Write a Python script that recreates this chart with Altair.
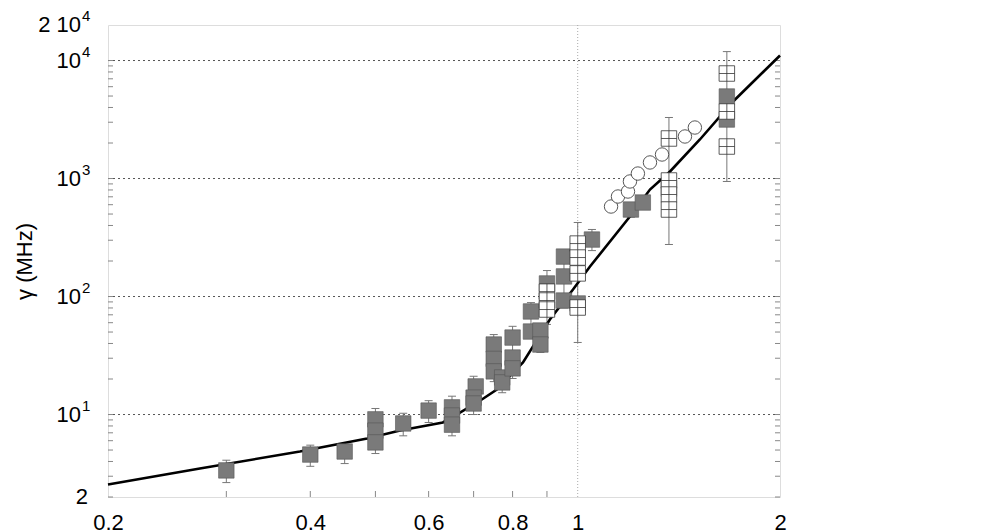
import altair as alt
import pandas as pd

# ---------------- data ----------------
filled_x = [0.30, 0.40, 0.45, 0.50, 0.50, 0.50, 0.55, 0.60, 0.65, 0.65, 0.65,
            0.705, 0.70, 0.70, 0.75, 0.75, 0.75, 0.772, 0.772, 0.80, 0.80, 0.80,
            0.852, 0.852, 0.88, 0.88, 0.90, 0.954, 0.954, 0.954, 1.00, 1.05,
            1.20, 1.25, 1.367, 1.667, 1.667]
filled_y = [3.36, 4.58, 4.86, 9.1, 7.3, 5.8, 8.4, 10.8, 11.5, 9.8, 8.2,
            17.3, 13.9, 12.4, 39.2, 29.6, 23.2, 20.6, 18.7, 44.9, 30.4, 24.6,
            74.7, 50.5, 51.5, 39.2, 129, 218, 148, 92.5, 87.3, 304,
            546, 626, 822, 4956, 3163]

open_x = [0.90, 0.90, 0.90, 1.00, 1.00, 1.00, 1.00,
          1.367, 1.367, 1.367, 1.367, 1.667, 1.667, 1.667]
open_y = [110, 92.5, 77.6, 281, 214, 157, 80.7,
          2184, 962, 732, 546, 7762, 3698, 1867]

circ_x = [1.121, 1.148, 1.188, 1.196, 1.229, 1.281, 1.335, 1.444, 1.494]
circ_y = [579, 704, 776, 944, 1102, 1368, 1598, 2271, 2705]

err_x = [0.30, 0.40, 0.45, 0.50, 0.55, 0.60, 0.65, 0.70, 0.75, 0.772, 0.80,
         0.852, 0.88, 0.90, 0.954, 1.00, 1.05, 1.20, 1.25, 1.367, 1.667]
err_lo = [2.65, 3.64, 3.84, 4.67, 6.6, 8.56, 6.6, 10.0, 19.0, 15.3, 20.2,
          45, 33.6, 58, 80, 40.8, 245, 470, 560, 276, 944]
err_hi = [4.1, 5.5, 5.6, 11.25, 10.25, 13.1, 14.3, 21.1, 47.6, 22, 55.9,
          88.8, 58, 166, 235, 424, 370, 600, 690, 3290, 11900]

curve_x = [0.2, 0.274, 0.386, 0.486, 0.544, 0.63, 0.668, 0.72, 0.758, 0.829,
           0.909, 0.984, 1.043, 1.196, 1.281, 1.372, 1.52, 1.703, 2.0]
curve_y = [2.55, 3.49, 4.86, 6.26, 7.32, 8.56, 10.4, 13.4, 16.3, 27.6,
           63.9, 114.6, 179.6, 476, 807, 1147, 2142, 4494, 11030]

y_minor = [2, 3, 4, 5, 6, 7, 8, 9, 10, 20, 30, 40, 50, 60, 70, 80, 90, 100,
           200, 300, 400, 500, 600, 700, 800, 900, 1000,
           2000, 3000, 4000, 5000, 6000, 7000, 8000, 9000, 10000]
x_minor = [0.3, 0.4, 0.5, 0.6, 0.7, 0.8, 0.9]
h_grid = [10, 100, 1000, 10000]
v_grid = [1]

# y tick labels: plain ones and "base^exponent" ones
y_plain_values = [2]
y_plain_texts = ["2"]
y_exp_values = [10, 100, 1000, 10000, 20000]
y_exp_bases = ["10", "10", "10", "10", "2 10"]
y_exp_powers = ["1", "2", "3", "4", "4"]

x_tick_values = [0.2, 0.4, 0.6, 0.8, 1, 2]
x_tick_texts = ["0.2", "0.4", "0.6", "0.8", "1", "2"]

# ---------------- chart ----------------
W, H = 672, 472
FONT = "Liberation Sans"

def label_expr(values, texts):
    pairs = ",".join("'%s':'%s'" % (v, t) for v, t in zip(values, texts))
    return "{" + pairs + "}[datum.value]"

xscale = alt.Scale(type="log", domain=[0.2, 2], nice=False)
yscale = alt.Scale(type="log", domain=[2, 20000], nice=False)

xaxis = alt.Axis(values=x_tick_values, labelExpr=label_expr(x_tick_values, x_tick_texts),
                 grid=False, ticks=False, tickSize=0, domain=False,
                 labelFontSize=22, labelFont=FONT, labelColor="black",
                 labelPadding=15, labelFlush=False, labelOverlap=False, title=None)
yaxis = alt.Axis(values=y_exp_values, labels=False,
                 grid=False, ticks=False, tickSize=0, domain=False,
                 title="\u03b3 (MHz)", titleFont=FONT, titleFontSize=22,
                 titleFontWeight="normal", titleColor="black",
                 titleX=-84, titleY=H / 2, titleAngle=270,
                 titleAlign="center", titleBaseline="middle")

def X(field):
    return alt.X(field, type="quantitative", scale=xscale, axis=xaxis)

def Y(field):
    return alt.Y(field, type="quantitative", scale=yscale, axis=yaxis)

df_filled = pd.DataFrame({"x": filled_x, "y": filled_y})
df_open = pd.DataFrame({"x": open_x, "y": open_y})
df_circ = pd.DataFrame({"x": circ_x, "y": circ_y})
df_err = pd.DataFrame({"x": err_x, "lo": err_lo, "hi": err_hi})
df_curve = pd.DataFrame({"x": curve_x, "y": curve_y})
df_ymin = pd.DataFrame({"v": y_minor})
df_xmin = pd.DataFrame({"v": x_minor})
df_hgrid = pd.DataFrame({"v": h_grid})
df_vgrid = pd.DataFrame({"v": v_grid})
df_ylab_plain = pd.DataFrame({"v": y_plain_values, "t": y_plain_texts})
df_ylab_exp = pd.DataFrame({"v": y_exp_values, "b": y_exp_bases, "p": y_exp_powers})

hgrid = alt.Chart(df_hgrid).mark_rule(color="#555555", strokeWidth=1, strokeDash=[2, 3]).encode(
    y=Y("v"))
vgrid = alt.Chart(df_vgrid).mark_rule(color="#aaaaaa", strokeWidth=1, strokeDash=[1, 2]).encode(
    x=X("v"))

lticks = alt.Chart(df_ymin).mark_rule(color="#888888", strokeWidth=1).encode(
    y=Y("v"), x=alt.value(0), x2=alt.value(5))
rticks = alt.Chart(df_ymin).mark_rule(color="#888888", strokeWidth=1).encode(
    y=Y("v"), x=alt.value(W - 5), x2=alt.value(W))
bticks = alt.Chart(df_xmin).mark_rule(color="#888888", strokeWidth=1).encode(
    x=X("v"), y=alt.value(H - 6), y2=alt.value(H))

ylab_plain = alt.Chart(df_ylab_plain).mark_text(
    align="right", baseline="middle", fontSize=22, font=FONT, color="black").encode(
    y=Y("v"), x=alt.value(-20), text="t:N")
ylab_base = alt.Chart(df_ylab_exp).mark_text(
    align="right", baseline="middle", fontSize=22, font=FONT, color="black").encode(
    y=Y("v"), x=alt.value(-27), text="b:N")
ylab_pow = alt.Chart(df_ylab_exp).mark_text(
    align="left", baseline="middle", fontSize=15, font=FONT, color="black", dy=-9).encode(
    y=Y("v"), x=alt.value(-26), text="p:N")

err_rule = alt.Chart(df_err).mark_rule(color="#777777", strokeWidth=1).encode(
    x=X("x"), y=Y("lo"), y2="hi")
cap_lo = alt.Chart(df_err).mark_point(shape="M-1,0H1", size=64, filled=False,
                                      stroke="#777777", strokeWidth=1, opacity=1).encode(
    x=X("x"), y=Y("lo"))
cap_hi = alt.Chart(df_err).mark_point(shape="M-1,0H1", size=64, filled=False,
                                      stroke="#777777", strokeWidth=1, opacity=1).encode(
    x=X("x"), y=Y("hi"))

curve = alt.Chart(df_curve).mark_line(color="black", strokeWidth=2.6).encode(
    x=X("x"), y=Y("y"))

filled = alt.Chart(df_filled).mark_point(shape="square", size=240, filled=True,
                                         fill="#7a7a7a", stroke="#555555",
                                         strokeWidth=0.6, opacity=1).encode(
    x=X("x"), y=Y("y"))

open_sq = alt.Chart(df_open).mark_point(shape="M-1,-1H1V1H-1ZM-1,0H1M0,-1V1", size=240,
                                        filled=True, fill="white", stroke="#333333",
                                        strokeWidth=0.8, opacity=1).encode(
    x=X("x"), y=Y("y"))

circles = alt.Chart(df_circ).mark_point(shape="circle", size=180, filled=True,
                                        fill="white", stroke="#444444",
                                        strokeWidth=0.9, opacity=1).encode(
    x=X("x"), y=Y("y"))

chart = alt.layer(
    hgrid, vgrid, lticks, rticks, bticks, ylab_plain, ylab_base, ylab_pow,
    err_rule, cap_lo, cap_hi, curve, filled, open_sq, circles
).properties(
    width=W, height=H,
    autosize="none",
    padding={"left": 100, "top": 17, "right": 200, "bottom": 40},
).configure_view(
    stroke="#999999", strokeWidth=1.5, clip=False
).configure(
    font=FONT, background="white"
)

chart.save("out.html", embed_options={"renderer": "svg", "actions": False})
